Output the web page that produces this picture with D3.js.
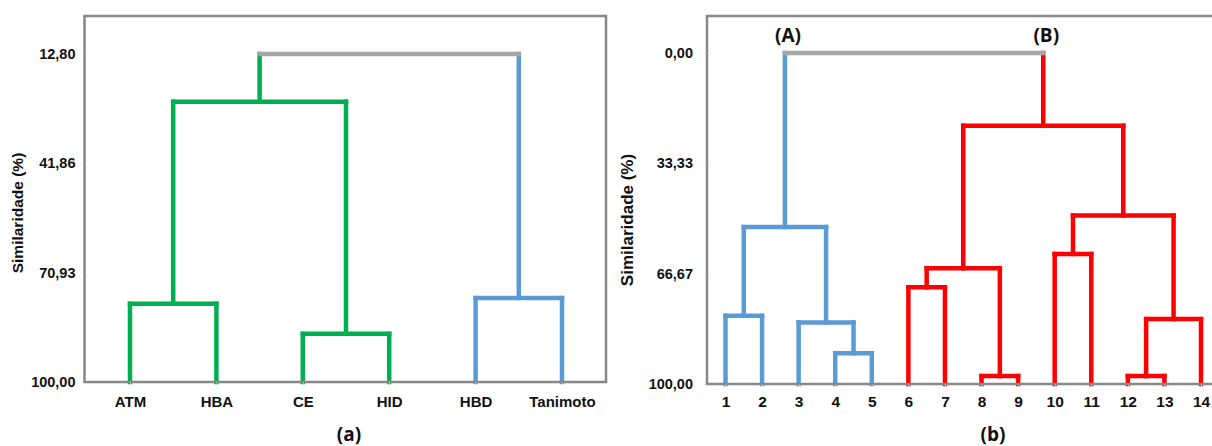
<!DOCTYPE html>
<html lang="pt">
<head>
<meta charset="UTF-8">
<title>Dendrogramas</title>
<script src="https://d3js.org/d3.v7.min.js"></script>
<style>
  body { margin: 0; background: #fff; }
  .axis text { font-family: "Liberation Sans", Arial, sans-serif; font-weight: bold; fill: #111; }
  .axis line { stroke: #bbb; }
  .title { font-family: "Liberation Sans", Arial, sans-serif; font-weight: bold; fill: #111; }
  .panel { font-family: "Open Sans", sans-serif; font-weight: bold; fill: #111; }
</style>
</head>
<body>
<script>
// ---- dados: dendrograma (a) ----
var leftLeaves = ["ATM", "HBA", "CE", "HID", "HBD", "Tanimoto"];
var leftTicks = [12.80, 41.86, 70.93, 100.00];
// [filho A, filho B, similaridade]; folhas 0..n-1, fusao k vira no n+k
var leftMerges = [[0, 1, 79.2], [2, 3, 87.2], [4, 5, 77.7], [6, 7, 25.5], [9, 8, 12.8]];
var leftGroups = [0, 0, 0, 0, 1, 1];

// ---- dados: dendrograma (b) ----
var rightLeaves = ["1","2","3","4","5","6","7","8","9","10","11","12","13","14"];
var rightTicks = [0, 33.33, 66.67, 100];
var rightMerges = [
  [0, 1, 79.4], [3, 4, 90.7], [2, 15, 81.4], [14, 16, 52.6],
  [5, 6, 70.8], [7, 8, 97.6], [18, 19, 65.0],
  [9, 10, 60.7], [11, 12, 97.6], [22, 13, 80.4], [21, 23, 49.1],
  [20, 24, 22.0], [17, 25, 0.0]
];
var rightGroups = [0,0,0,0,0,1,1,1,1,1,1,1,1,1];
var rightClusterNames = ["(A)", "(B)"];

var width = 1212, height = 446;
var fmt = d3.formatLocale({decimal: ",", thousands: ".", grouping: [3], currency: ["", ""]}).format(".2f");
var gray = "#a6a6a6";

var svg = d3.select("body").append("svg")
    .attr("width", width)
    .attr("height", height);

function dendro(opt) {
  var x = d3.scalePoint().domain(opt.leaves).range(opt.xRange);
  var y = d3.scaleLinear().domain(opt.yDomain).range(opt.yRange);
  var color = function(c) { return c < 0 ? gray : opt.colors[c]; };

  // nos
  var nodes = opt.leaves.map(function(name, i) {
    return {x: x(name), h: opt.yDomain[1], g: opt.groups[i]};
  });
  opt.merges.forEach(function(m) {
    var a = nodes[m[0]], b = nodes[m[1]];
    nodes.push({x: (a.x + b.x) / 2, h: m[2], g: a.g === b.g ? a.g : -1, a: a, b: b});
  });

  var g = svg.append("g");
  var links = g.append("g")
      .attr("fill", "none")
      .attr("stroke-width", 4.5)
      .attr("stroke-linecap", "square");

  var inner = nodes.filter(function(n) { return n.a; });
  inner.forEach(function(n) {
    [n.a, n.b].forEach(function(c) {
      links.append("line")
          .attr("x1", c.x).attr("x2", c.x)
          .attr("y1", y(c.h)).attr("y2", y(n.h))
          .attr("stroke", color(c.g));
    });
  });
  inner.forEach(function(n) {
    links.append("line")
        .attr("x1", n.a.x).attr("x2", n.b.x)
        .attr("y1", y(n.h)).attr("y2", y(n.h))
        .attr("stroke", color(n.g));
  });

  // moldura
  g.append("rect")
      .attr("x", opt.frame[0]).attr("y", opt.frame[1])
      .attr("width", opt.frame[2] - opt.frame[0])
      .attr("height", opt.yRange[1] - opt.frame[1])
      .attr("fill", "none")
      .attr("stroke", "#878787")
      .attr("stroke-width", 2.5);

  // eixos
  var ya = g.append("g").attr("class", "axis")
      .attr("transform", "translate(" + opt.frame[0] + ",0)")
      .call(d3.axisLeft(y).tickValues(opt.ticks).tickFormat(fmt).tickSize(2).tickPadding(opt.yPad));
  ya.select(".domain").remove();
  ya.selectAll("text").style("font-size", opt.tickFont + "px");

  var xa = g.append("g").attr("class", "axis")
      .attr("transform", "translate(0," + opt.yRange[1] + ")")
      .call(d3.axisBottom(x).tickSize(2).tickPadding(opt.xPad));
  xa.select(".domain").remove();
  xa.selectAll("text").style("font-size", opt.leafFont + "px");

  g.append("text").attr("class", "title")
      .attr("transform", "translate(" + opt.titlePos[0] + "," + opt.titlePos[1] + ") rotate(-90)")
      .attr("text-anchor", "middle")
      .attr("dy", "0.35em")
      .style("font-size", opt.titleFont + "px")
      .text("Similaridade (%)");

  g.append("text").attr("class", "panel")
      .attr("x", opt.labelX).attr("y", 441)
      .attr("text-anchor", "middle")
      .style("font-size", "19px")
      .text(opt.label);

  return {x: x, y: y, nodes: nodes};
}

dendro({
  leaves: leftLeaves, merges: leftMerges, groups: leftGroups, ticks: leftTicks,
  colors: ["#00b050", "#5b9bd5"],
  xRange: [130, 562], yDomain: [12.8, 100], yRange: [54, 382],
  frame: [84.5, 16, 606], yPad: 7, xPad: 12,
  tickFont: 14.5, leafFont: 15, titleFont: 15.5,
  titlePos: [18, 213], label: "(a)", labelX: 349
});

var rb = dendro({
  leaves: rightLeaves, merges: rightMerges, groups: rightGroups, ticks: rightTicks,
  colors: ["#5b9bd5", "#ff0000"],
  xRange: [725.5, 1201], yDomain: [0, 100], yRange: [53, 384],
  frame: [707, 16, 1230], yPad: 12, xPad: 10,
  tickFont: 14.5, leafFont: 15.5, titleFont: 17,
  titlePos: [627.5, 220], label: "(b)", labelX: 993
});

// rotulos dos grupos (A) e (B) sobre os ramos do topo
var rootNode = rb.nodes[rb.nodes.length - 1];
svg.selectAll(".grp").data([rootNode.a, rootNode.b]).enter()
  .append("text").attr("class", "panel grp")
    .attr("x", function(d) { return d.x + 3; })
    .attr("y", 42)
    .attr("text-anchor", "middle")
    .style("font-size", "19px")
    .text(function(d, i) { return rightClusterNames[i]; });
</script>
</body>
</html>
